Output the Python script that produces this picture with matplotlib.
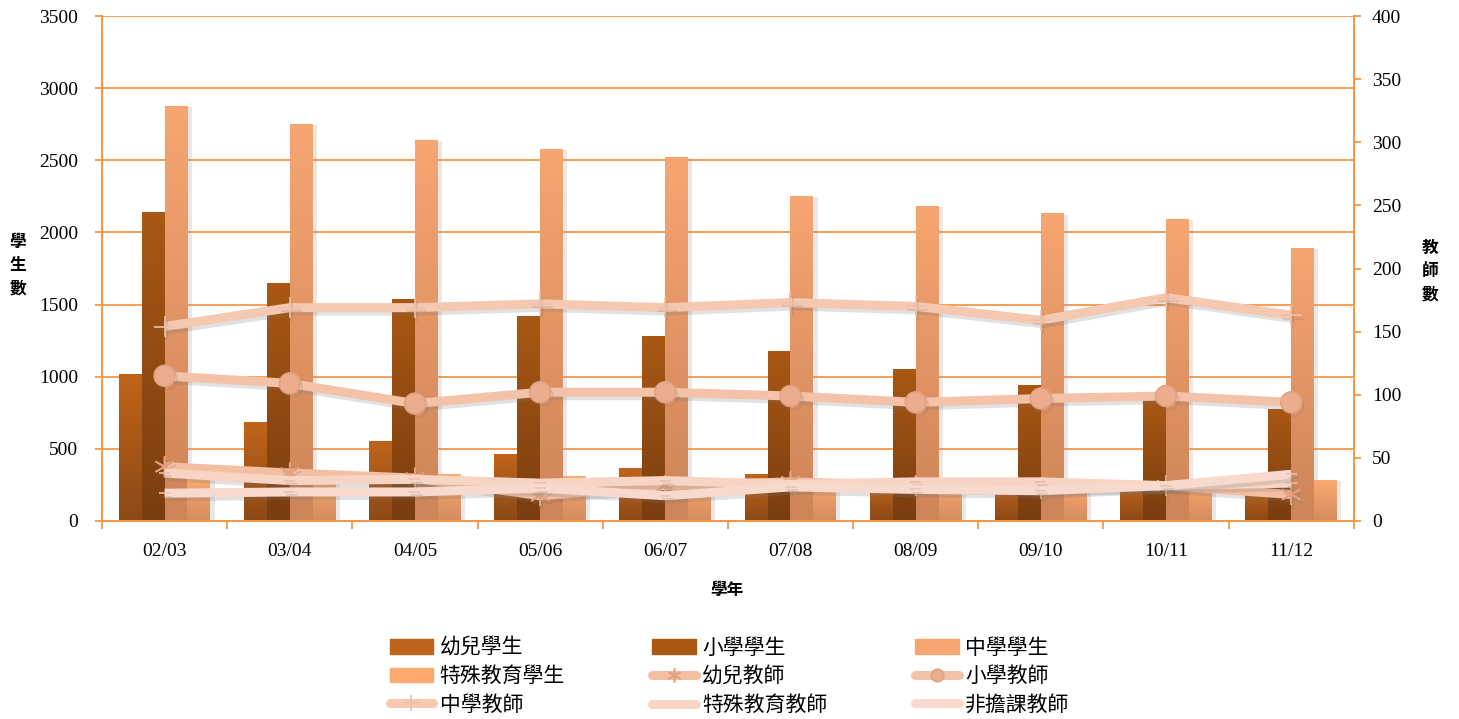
import numpy as np
import matplotlib
matplotlib.use("Agg")
import matplotlib.pyplot as plt
import matplotlib.patheffects as pe
from matplotlib.colors import LinearSegmentedColormap
from matplotlib.lines import Line2D

plt.rcParams['font.family'] = ['Liberation Serif', 'Noto Sans CJK TC']

years = ['02/03', '03/04', '04/05', '05/06', '06/07', '07/08', '08/09', '09/10', '10/11', '11/12']

# students (left axis)
kinder_students = [1012, 686, 554, 464, 367, 319, 280, 260, 250, 240]
primary_students = [2141, 1649, 1538, 1414, 1282, 1178, 1053, 942, 842, 776]
secondary_students = [2876, 2751, 2640, 2578, 2523, 2252, 2183, 2128, 2093, 1892]
special_students = [300, 310, 319, 305, 295, 290, 285, 285, 280, 284]

# teachers (right axis)
kinder_teachers = [43, 38, 34, 20, 28, 31, 28, 26, 28, 21]
primary_teachers = [115, 109, 93, 102, 102, 99, 94, 97, 99, 94]
secondary_teachers = [154, 169, 169, 172, 169, 173, 170, 159, 177, 163]
special_teachers = [38, 32, 33, 30, 32, 29, 31, 31, 28, 30]
nonteaching_teachers = [22, 23, 23, 26, 20, 27, 25, 24, 28, 37]

bar_names = ['幼兒學生', '小學學生', '中學學生', '特殊教育學生']
line_names = ['幼兒教師', '小學教師', '中學教師', '特殊教育教師', '非擔課教師']

orange = '#F79646'

fig = plt.figure(figsize=(14.59, 7.19), dpi=100)
ax = fig.add_axes([0.0699, 0.2754, 0.858, 0.7023])
ax2 = ax.twinx()

x = np.arange(len(years))
w = 0.183
offsets = [-1.5 * w, -0.5 * w, 0.5 * w, 1.5 * w]
bar_data = [kinder_students, primary_students, secondary_students, special_students]
# (top, bottom) gradient colours
bar_cols = [('#C0641B', '#8C4915'), ('#A95814', '#7A3D0F'),
            ('#F7A571', '#CD8457'), ('#FCAA70', '#D48B5E')]

shadow = [pe.SimplePatchShadow(offset=(3, -1), shadow_rgbFace='#999999', alpha=0.22), pe.Normal()]
grad = np.linspace(0, 1, 256).reshape(-1, 1)
legend_handles = []
for vals, off, (ctop, cbot), name in zip(bar_data, offsets, bar_cols, bar_names):
    bars = ax.bar(x + off, vals, width=w, color=cbot, zorder=2, label=name)
    cmap = LinearSegmentedColormap.from_list('g', [cbot, ctop])
    for b in bars:
        b.set_path_effects(shadow)
        x0, h = b.get_x(), b.get_height()
        ax.imshow(grad, cmap=cmap, extent=[x0, x0 + w, 0, h], origin='lower',
                  aspect='auto', zorder=2.1)
    legend_handles.append(plt.Rectangle((0, 0), 1, 1, color=ctop))

ax.set_xlim(-0.5, len(years) - 0.5)
ax.set_ylim(0, 3500)
ax.set_yticks(np.arange(0, 3501, 500))
ax.grid(axis='y', color=orange, linewidth=1.3, zorder=0)
ax.set_axisbelow(True)
ax.set_xticks(x)
ax.set_xticklabels(years)
ax.set_xticks(np.arange(-0.5, len(years)), minor=True)
ax.tick_params(axis='x', which='major', length=0, pad=16, labelsize=14)
ax.tick_params(axis='x', which='minor', length=6, color=orange, width=1.3)
ax.tick_params(axis='y', length=5, color=orange, width=1.3, pad=12, labelsize=14)

ax2.set_ylim(0, 400)
ax2.set_yticks(np.arange(0, 401, 50))
ax2.tick_params(axis='y', length=5, color=orange, width=1.3, pad=8, labelsize=14)

for a in (ax, ax2):
    for side in ('left', 'right', 'bottom'):
        a.spines[side].set_color(orange)
        a.spines[side].set_linewidth(1.3)
    a.spines['top'].set_visible(False)

line_data = [kinder_teachers, primary_teachers, secondary_teachers, special_teachers, nonteaching_teachers]
line_cols = ['#F4BEA3', '#F4C2A8', '#F5C8B2', '#F7D4C3', '#F7DACD']
markers = [(6, 2, 0), 'o', '+', '_', '_']
msizes = [15, 15, 15, 8, 8]
leg_ms = [10, 9, 12, 0, 0]
mfcs = ['#E6A07E', '#EBAD8E', '#F0BFA6', '#EDBBA5', '#EDC2B0']
mecs = ['#E6A07E', '#E3A283', '#F0BFA6', '#EDBBA5', '#EDC2B0']
lshadow = [pe.SimpleLineShadow(offset=(1.5, -2.5), shadow_color='#777777', alpha=0.22), pe.Normal()]
for vals, name, c, m, ms, lms, mfc, mec in zip(line_data, line_names, line_cols, markers,
                                               msizes, leg_ms, mfcs, mecs):
    ln, = ax2.plot(x, vals, color=c, linewidth=6.5, marker=m, markersize=ms,
                   markerfacecolor=mfc, markeredgecolor=mec, markeredgewidth=1.2,
                   solid_capstyle='butt', zorder=3)
    ln.set_path_effects(lshadow)
    legend_handles.append(Line2D([], [], color=c, linewidth=6.5, marker=m, markersize=lms,
                                 markerfacecolor=mfc, markeredgecolor=mec,
                                 markeredgewidth=1.2, solid_capstyle='round'))

fig.text(0.0123, 0.63, '學\n生\n數', fontsize=12, fontweight='bold', ha='center', va='center',
         linespacing=1.6)
fig.text(0.980, 0.622, '教\n師\n數', fontsize=12, fontweight='bold', ha='center', va='center',
         linespacing=1.6)
fig.text(0.498, 0.178, '學年', fontsize=12, fontweight='bold', ha='center', va='center')

labels = bar_names + line_names
order = [0, 3, 6, 1, 4, 7, 2, 5, 8]
fig.legend([legend_handles[i] for i in order], [labels[i] for i in order],
           loc='center', bbox_to_anchor=(0.5, 0.058), ncol=3, frameon=False,
           fontsize=15, handlelength=2.1, handletextpad=0.3, columnspacing=4.2,
           labelspacing=0.42)

fig.savefig('out.png', dpi=100)
